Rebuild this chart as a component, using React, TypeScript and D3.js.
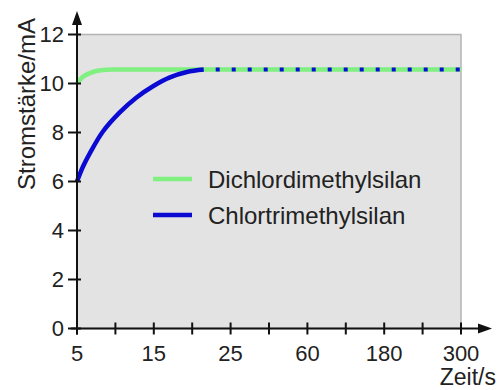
import React, { useEffect, useRef } from 'react';
import * as d3 from 'd3';

// x positions are tick indices (0..10); every other tick carries a label
const xTickLabels = ['5', '', '15', '', '25', '', '60', '', '180', '', '300'];
const yTicks = [0, 2, 4, 6, 8, 10, 12];

const greenX = [0, 0.16, 0.43, 0.68, 1, 1.5, 10];
const greenY = [10.0, 10.28, 10.48, 10.55, 10.57, 10.57, 10.57];

const blueX = [0, 0.16, 0.34, 0.68, 1.12, 1.55, 1.99, 2.42, 2.86, 3.3];
const blueY = [6.0, 6.62, 7.17, 8.05, 8.83, 9.43, 9.9, 10.25, 10.47, 10.57];

// blue dotted continuation on top of green plateau
const blueDotX = [3.3, 10];
const blueDotY = [10.57, 10.57];

const seriesNames = ['Dichlordimethylsilan', 'Chlortrimethylsilan'];
const colors = ['#80f080', '#0a0ad2'];

const App = () => {
  const svgRef = useRef(null);

  useEffect(() => {
    const svg = d3.select(svgRef.current);
    svg.selectAll('*').remove();

    const left = 77, right = 461, top = 34.5, bottom = 328.5;
    const font = 'Liberation Sans, Arial, sans-serif';
    const fs = 22;

    const x = d3.scaleLinear().domain([0, 10]).range([left, right]);
    const y = d3.scaleLinear().domain([0, 12]).range([bottom, top]);

    // plot background
    svg.append('rect')
      .attr('x', left).attr('y', top)
      .attr('width', right - left).attr('height', bottom - top)
      .attr('fill', '#e3e3e3')
      .attr('stroke', '#b4b4b4')
      .attr('stroke-width', 1.5);

    const line = d3.line<[number, number]>()
      .x(d => x(d[0]))
      .y(d => y(d[1]))
      .curve(d3.curveCatmullRom.alpha(0.5));

    const green = greenX.map((v, i) => [v, greenY[i]] as [number, number]);
    const blue = blueX.map((v, i) => [v, blueY[i]] as [number, number]);
    const dots = blueDotX.map((v, i) => [v, blueDotY[i]] as [number, number]);

    svg.append('path').attr('d', line(green))
      .attr('fill', 'none').attr('stroke', colors[0]).attr('stroke-width', 4.5);
    svg.append('path').attr('d', line(blue))
      .attr('fill', 'none').attr('stroke', colors[1]).attr('stroke-width', 4.5);
    svg.append('path').attr('d', line(dots))
      .attr('fill', 'none').attr('stroke', colors[1]).attr('stroke-width', 4)
      .attr('stroke-dasharray', '4 12')
      .attr('stroke-dashoffset', -12);

    // axes
    const ax = svg.append('g').attr('stroke', '#111').attr('stroke-width', 2);
    ax.append('line').attr('x1', left).attr('x2', left).attr('y1', bottom + 6).attr('y2', 20);
    ax.append('line').attr('x1', left - 6).attr('x2', 482).attr('y1', bottom).attr('y2', bottom);
    svg.append('path')
      .attr('d', `M${left},11 L${left - 5},25 L${left + 5},25 Z`).attr('fill', '#111');
    svg.append('path')
      .attr('d', `M492,${bottom} L478,${bottom - 5} L478,${bottom + 5} Z`).attr('fill', '#111');

    yTicks.forEach(t => {
      ax.append('line').attr('x1', left - 9).attr('x2', left + 4)
        .attr('y1', y(t)).attr('y2', y(t));
      svg.append('text').attr('x', 64).attr('y', y(t)).attr('dy', '0.36em')
        .attr('text-anchor', 'end').attr('font-family', font).attr('font-size', fs)
        .attr('fill', '#222').text(t);
    });

    xTickLabels.forEach((lab, i) => {
      ax.append('line').attr('x1', x(i)).attr('x2', x(i))
        .attr('y1', bottom - 6).attr('y2', bottom + 6);
      if (lab) {
        svg.append('text').attr('x', x(i)).attr('y', 361)
          .attr('text-anchor', 'middle').attr('font-family', font).attr('font-size', fs)
          .attr('fill', '#222').text(lab);
      }
    });

    svg.append('text').attr('x', 496).attr('y', 385).attr('text-anchor', 'end')
      .attr('font-family', font).attr('font-size', 23).attr('fill', '#222').text('Zeit/s');
    svg.append('text')
      .attr('transform', 'translate(35,104) rotate(-90)')
      .attr('text-anchor', 'middle')
      .attr('font-family', font).attr('font-size', 24).attr('fill', '#222')
      .text('Stromstärke/mA');

    // legend
    seriesNames.forEach((name, i) => {
      const ly = 179 + i * 36;
      svg.append('line').attr('x1', 153).attr('x2', 192).attr('y1', ly).attr('y2', ly)
        .attr('stroke', colors[i]).attr('stroke-width', 4.5);
      svg.append('text').attr('x', 208).attr('y', ly).attr('dy', '0.36em')
        .attr('font-family', font).attr('font-size', 24).attr('fill', '#222').text(name);
    });
  }, []);

  return (
    <svg ref={svgRef} width={504} height={390}
      style={{ position: 'absolute', left: 0, top: 0, background: '#fff' }} />
  );
};

export default App;
